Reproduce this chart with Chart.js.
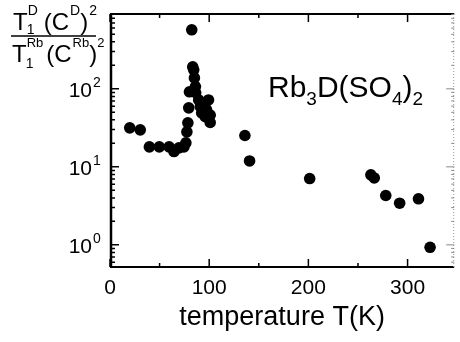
<!DOCTYPE html>
<html>
<head>
<meta charset="utf-8">
<script src="https://cdn.jsdelivr.net/npm/chart.js@4"></script>
<style>
  html, body { margin: 0; padding: 0; background: #fff; }
  canvas { display: block; }
</style>
</head>
<body>
<canvas id="grafico" width="460" height="342"></canvas>
<script>
// temperatura (K) e razao T1 C^2
const temperatura = [19.9, 30.5, 39.7, 49.7, 59.6, 64.5, 69.5, 74.5, 76.5, 77.5, 78.5, 79.4, 80.1,
    82.4, 83.4, 84.4, 85.1, 86.1, 86.4, 89.4, 91.1, 92.4, 96, 99.3, 101, 101, 97.3,
    136, 140.7, 201.3, 263, 266.4, 278, 292, 311, 322.7];
const razao = [31.6, 29.8, 18.0, 18.0, 18.0, 15.7, 17.5, 18.0, 20.3, 28.1, 36.6, 57, 91.6,
    571, 191, 175, 138, 107, 89, 72, 59, 49, 44, 72, 46, 37, 54,
    25.2, 11.9, 7.08, 7.9, 7.2, 4.29, 3.42, 3.89, 0.93];
const ticksX = [0, 100, 200, 300];
const ticksXMenores = [50, 150, 250];
const decadasY = [1, 10, 100];
const expoentesY = ['0', '1', '2'];

const fonte = '"Liberation Sans", Arial, sans-serif';

(function () {
    const canvas = document.getElementById('grafico');
    if (!canvas || typeof Chart === 'undefined') {
        return;
    }

    function texto(ctx, t, x, y, tam) {
        ctx.font = tam + 'px ' + fonte;
        ctx.fillText(t, x, y);
        return x + ctx.measureText(t).width;
    }

    // fracao do eixo y, escrita a mao
    function rotuloFracao(ctx) {
        const g = 24, p = 14, q = 13;
        ctx.save();
        ctx.fillStyle = '#000';
        ctx.textBaseline = 'alphabetic';
        ctx.textAlign = 'left';

        let x = texto(ctx, 'T', 13, 30, g);
        let a = texto(ctx, '1', x - 1, 34, p);
        let b = texto(ctx, 'D', x, 15, p);
        x = Math.max(a, b) + 6;
        x = texto(ctx, '(C', x, 30, g);
        x = texto(ctx, 'D', x + 1, 15, p);
        x = texto(ctx, ')', x, 30, g);
        texto(ctx, '2', x + 1, 15, p);

        x = texto(ctx, 'T', 12, 62, g);
        a = texto(ctx, '1', x - 1, 68, p);
        b = texto(ctx, 'Rb', x, 47, q);
        x = Math.max(a, b) + 3;
        x = texto(ctx, '(C', x, 62, g);
        x = texto(ctx, 'Rb', x + 1, 47, q);
        x = texto(ctx, ')', x, 62, g);
        texto(ctx, '2', x, 47, q);

        ctx.strokeStyle = '#000';
        ctx.lineWidth = 1.5;
        ctx.beginPath();
        ctx.moveTo(11, 36);
        ctx.lineTo(96, 36);
        ctx.stroke();
        ctx.restore();
    }

    const molduraPlugin = {
        id: 'moldura',
        afterDraw(chart) {
            const ctx = chart.ctx;
            const area = chart.chartArea;
            const sx = chart.scales.x;
            const sy = chart.scales.y;

            ctx.save();
            ctx.strokeStyle = '#000';

            // bordas
            ctx.lineWidth = 2.5;
            ctx.beginPath();
            ctx.moveTo(area.left + 1, area.top);
            ctx.lineTo(area.left + 1, area.bottom);
            ctx.stroke();
            ctx.lineWidth = 2;
            ctx.beginPath();
            ctx.moveTo(area.left, area.bottom);
            ctx.lineTo(area.right, area.bottom);
            ctx.moveTo(area.left, area.top);
            ctx.lineTo(area.right, area.top);
            ctx.stroke();

            ctx.save();
            ctx.strokeStyle = '#9a9a9a';
            ctx.lineWidth = 1;
            ctx.setLineDash([1, 2]);
            ctx.beginPath();
            ctx.moveTo(area.right - 0.5, area.top);
            ctx.lineTo(area.right - 0.5, area.bottom);
            ctx.stroke();
            ctx.restore();

            // marcas do eixo x (para dentro)
            ctx.lineWidth = 1.5;
            ctx.beginPath();
            ticksX.forEach(function (v) {
                const px = sx.getPixelForValue(v);
                ctx.moveTo(px, area.bottom);
                ctx.lineTo(px, area.bottom - 8);
                ctx.moveTo(px, area.top);
                ctx.lineTo(px, area.top + 8);
            });
            ticksXMenores.forEach(function (v) {
                const px = sx.getPixelForValue(v);
                ctx.moveTo(px, area.bottom);
                ctx.lineTo(px, area.bottom - 4);
                ctx.moveTo(px, area.top);
                ctx.lineTo(px, area.top + 4);
            });
            ctx.stroke();

            // marcas logaritmicas do eixo y
            ctx.beginPath();
            [0.1, 1, 10, 100].forEach(function (dec) {
                for (let m = 1; m <= 9; m++) {
                    const v = dec * m;
                    if (v < sy.min || v > sy.max) {
                        continue;
                    }
                    const py = sy.getPixelForValue(v);
                    const len = m === 1 ? 9 : 5;
                    ctx.moveTo(area.left, py);
                    ctx.lineTo(area.left + len, py);
                }
            });
            ctx.stroke();

            ctx.strokeStyle = '#888';
            ctx.lineWidth = 1;
            ctx.beginPath();
            [0.1, 1, 10, 100].forEach(function (dec) {
                for (let m = 1; m <= 9; m++) {
                    const v = dec * m;
                    if (v < sy.min || v > sy.max) {
                        continue;
                    }
                    const py = sy.getPixelForValue(v);
                    const len = m === 1 ? 8 : 3;
                    ctx.moveTo(area.right, py);
                    ctx.lineTo(area.right - len, py);
                }
            });
            ctx.stroke();

            // rotulos 10^n
            ctx.fillStyle = '#000';
            ctx.textBaseline = 'middle';
            decadasY.forEach(function (v, i) {
                const py = sy.getPixelForValue(v);
                ctx.font = '21px ' + fonte;
                ctx.textAlign = 'right';
                ctx.fillText('10', 92, py + 2);
                ctx.font = '14px ' + fonte;
                ctx.textAlign = 'left';
                ctx.fillText(expoentesY[i], 93, py - 6);
            });

            // formula quimica
            ctx.textAlign = 'left';
            ctx.textBaseline = 'alphabetic';
            let x = texto(ctx, 'Rb', 268, 97, 30);
            x = texto(ctx, '3', x, 105, 19);
            x = texto(ctx, 'D(SO', x, 97, 30);
            x = texto(ctx, '4', x, 105, 19);
            x = texto(ctx, ')', x, 97, 30);
            texto(ctx, '2', x, 105, 19);

            rotuloFracao(ctx);
            ctx.restore();
        }
    };

    new Chart(canvas, {
        type: 'scatter',
        data: {
            datasets: [{
                label: 'Rb3D(SO4)2',
                data: temperatura.map(function (t, i) {
                    return { x: t, y: razao[i] };
                }),
                pointRadius: 5.8,
                pointHoverRadius: 5.8,
                backgroundColor: '#000',
                borderWidth: 0
            }]
        },
        options: {
            responsive: false,
            animation: false,
            layout: {
                padding: { left: 0, top: 14, right: 1, bottom: 0 }
            },
            scales: {
                x: {
                    type: 'linear',
                    min: 0,
                    max: 347,
                    grid: { display: false, drawTicks: false },
                    border: { display: false },
                    ticks: {
                        stepSize: 100,
                        includeBounds: false,
                        padding: 9,
                        color: '#000',
                        font: { family: fonte, size: 21 }
                    },
                    title: {
                        display: true,
                        text: 'temperature T(K)',
                        color: '#000',
                        font: { family: fonte, size: 27 },
                        padding: { top: 0, bottom: 8 }
                    },
                    afterFit: function (scale) {
                        scale.height = 75;
                    }
                },
                y: {
                    type: 'logarithmic',
                    min: 0.52,
                    max: 910,
                    grid: { display: false, drawTicks: false },
                    border: { display: false },
                    ticks: { display: false },
                    afterFit: function (scale) {
                        scale.width = 110;
                    }
                }
            },
            plugins: {
                legend: { display: false },
                tooltip: { enabled: false }
            }
        },
        plugins: [molduraPlugin]
    });
})();
</script>
</body>
</html>
